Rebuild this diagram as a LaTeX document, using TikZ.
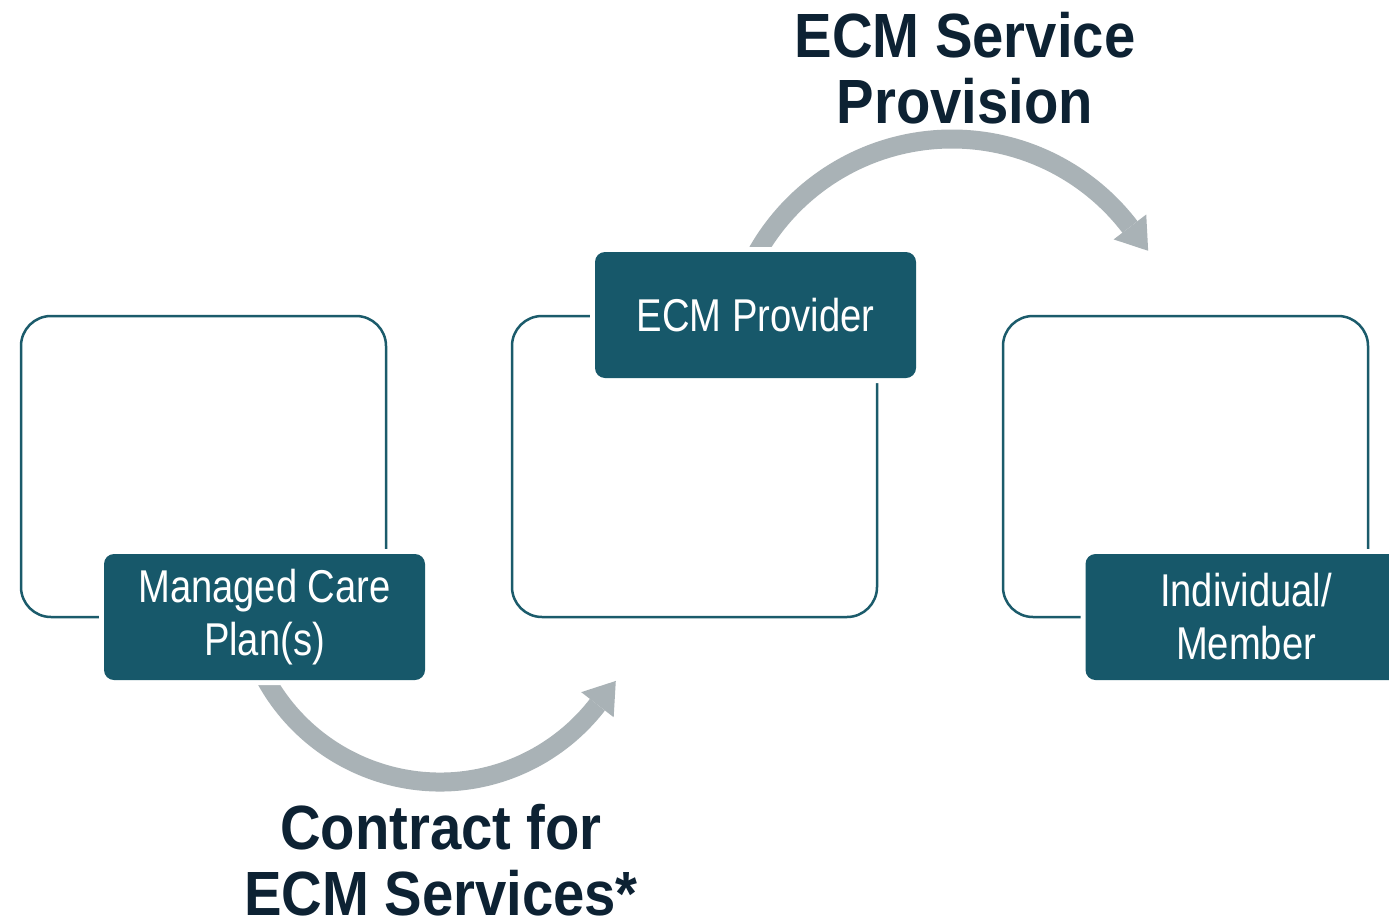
\documentclass[tikz,border=0pt]{standalone}
\usepackage{fontspec}
\setmainfont{Liberation Sans}
\newfontfamily\labelfont[FakeStretch=0.83]{Liberation Sans}
\newfontfamily\titlefont[FakeStretch=0.9]{Liberation Sans}
\usetikzlibrary{calc}
\definecolor{tealbox}{HTML}{17586A}
\definecolor{tealline}{HTML}{1B5B6B}
\definecolor{arrowgray}{HTML}{A9B2B6}
\definecolor{titlenavy}{HTML}{0D2233}
\tikzset{
  framebox/.style={draw=tealline, line width=2.5pt, rounded corners=30pt,
    minimum width=365pt, minimum height=301pt, inner sep=0pt},
  lbl/.style={fill=tealbox, rounded corners=10pt, minimum width=321pt,
    minimum height=126pt, inner sep=0pt, text=white, align=center,
    font=\labelfont\fontsize{46}{53}\selectfont,
    preaction={draw=white, line width=10pt}},
  shaft/.style={draw=arrowgray, line width=19pt},
  title/.style={text=titlenavy, align=center,
    font=\titlefont\bfseries\fontsize{62.5}{66.5}\selectfont}
}
\begin{document}
\begin{tikzpicture}[x=1pt,y=1pt]
\useasboundingbox (0,0) rectangle (1389,-921);
\clip (0,0) rectangle (1389,-921);
\fill[white] (0,0) rectangle (1389,-921);

% frames
\node[framebox] (box1) at (203.5,-466.5) {};
\node[framebox] (box2) at (694.5,-466.5) {};
\node[framebox] (box3) at (1185.5,-466.5) {};

% arrows
\coordinate (C1) at (440,-583);
\draw[shaft] ($(C1)+(206:199pt)$) arc[start angle=206, end angle=322.3, radius=199pt];
\fill[arrowgray] ($(C1)+(322.3:178.5pt)$) -- ($(C1)+(322.3:219.5pt)$)
  -- ($(C1)+(322.3:199pt)+(52.3:30pt)$) -- cycle;

\coordinate (C2) at (952,-363);
\draw[shaft] ($(C2)+(152:224pt)$) arc[start angle=152, end angle=37.4, radius=224pt];
\fill[arrowgray] ($(C2)+(37.4:203.5pt)$) -- ($(C2)+(37.4:244.5pt)$)
  -- ($(C2)+(37.4:224pt)+(-52.6:30pt)$) -- cycle;

% labels
\node[lbl] (mcp) at (264.5,-617) {Managed Care\\Plan(s)};
\node[lbl] (prov) at (755.5,-315) {ECM Provider};
\node[lbl] (memb) at (1246,-617) {Individual/\\Member};

% titles
\node[title] (t1) at (965,-68) {ECM Service\\Provision};
\node[title] (t2) at (441,-860) {Contract for\\ECM Services*};
\end{tikzpicture}
\end{document}
